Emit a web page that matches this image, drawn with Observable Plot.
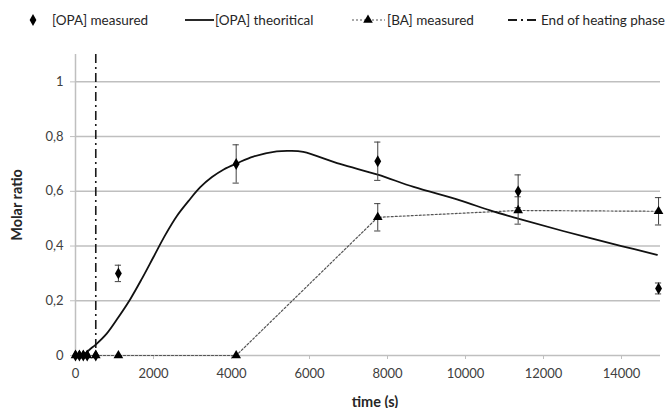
<!DOCTYPE html>
<html>
<head>
<meta charset="utf-8">
<script src="https://cdn.jsdelivr.net/npm/d3@7"></script>
<script src="https://cdn.jsdelivr.net/npm/@observablehq/plot@0.6"></script>
<style>
  html, body { margin: 0; padding: 0; background: #fff; }
  #wrap { width: 672px; height: 408px; position: relative; font-family: Lato, "Open Sans", sans-serif; color: #262626; }
  #legend { position: relative; height: 30px; font-size: 13.5px; }
  #legend .item { position: absolute; top: 11px; height: 18px; line-height: 18px; white-space: nowrap; }
  #legend svg { position: absolute; overflow: visible; }
  #chart svg { display: block; }
</style>
</head>
<body>
<div id="wrap">
  <div id="legend"></div>
  <div id="chart"></div>
</div>
<script>
// Sampling times (s) and measured molar ratios with their error bars
const sampleTime = [0, 100, 200, 300, 520, 1100, 4120, 7750, 11350, 14950];
const opaMeasured = [0, 0, 0, 0, 0, 0.30, 0.70, 0.71, 0.60, 0.245];
const opaError = [0, 0, 0, 0, 0, 0.03, 0.07, 0.07, 0.06, 0.02];
const baMeasured = [0, 0, 0, 0, 0, 0, 0, 0.505, 0.53, 0.527];
const baError = [0, 0, 0, 0, 0, 0, 0, 0.05, 0.05, 0.05];

// Model curve for OPA
const theoTime = [200, 365, 520, 800, 1100, 1400, 1700, 2000, 2300, 2600, 2900, 3200, 3500, 3800, 4150, 4560, 5160, 5500, 5840, 6780, 7750, 8670, 9860, 10630, 11350, 12500, 14000, 14910];
const theoRatio = [0, 0.022, 0.04, 0.08, 0.14, 0.205, 0.28, 0.36, 0.44, 0.51, 0.565, 0.615, 0.652, 0.68, 0.703, 0.727, 0.746, 0.748, 0.744, 0.70, 0.661, 0.616, 0.567, 0.53, 0.50, 0.455, 0.40, 0.368];

const heatingEnd = 520;

const xTicks = [0, 2000, 4000, 6000, 8000, 10000, 12000, 14000];
const yTicks = [0, 0.2, 0.4, 0.6, 0.8, 1];
const yGrid = [0.2, 0.4, 0.6, 0.8, 1];

const seriesNames = ["[OPA] measured", "[OPA] theoritical", "[BA] measured", "End of heating phase"];

const opa = sampleTime.map((t, i) => ({t, v: opaMeasured[i], e: opaError[i]}));
const ba = sampleTime.map((t, i) => ({t, v: baMeasured[i], e: baError[i]}));
const theo = theoTime.map((t, i) => ({t, v: theoRatio[i]}));
const bars = [...opa, ...ba].filter(d => d.e > 0);
const capHalf = 80;

const gridColor = "#bfbfbf";
const comma = d => String(d).replace(".", ",");

const chart = Plot.plot({
  width: 672,
  height: 378,
  marginLeft: 75,
  marginRight: 12,
  marginTop: 24,
  marginBottom: 53,
  style: {fontFamily: "Lato, 'Open Sans', sans-serif", fontSize: "13px", color: "#404040", background: "#fff"},
  x: {domain: [0, 15000]},
  y: {domain: [0, 1.1]},
  marks: [
    Plot.ruleY(yGrid, {stroke: gridColor, strokeWidth: 1.5}),
    Plot.ruleY([0], {stroke: gridColor, strokeWidth: 1.5}),
    Plot.ruleX([0], {stroke: gridColor, strokeWidth: 1.5}),
    Plot.axisY({ticks: yTicks, tickFormat: comma, tickSize: 5, tickPadding: 7, stroke: gridColor,
      label: "Molar ratio", labelArrow: "none", labelAnchor: "center", labelOffset: 64}),
    Plot.axisX({ticks: xTicks, tickFormat: d => String(d), tickSize: 4, tickPadding: 9, stroke: gridColor,
      label: "time (s)", labelArrow: "none", labelAnchor: "center", labelOffset: 51}),
    Plot.ruleX([heatingEnd], {stroke: "#1a1a1a", strokeWidth: 1.6, strokeDasharray: "9,4,2,4"}),
    Plot.line(ba, {x: "t", y: "v", stroke: "#555", strokeWidth: 1.2, strokeDasharray: "2,2"}),
    Plot.line(theo, {x: "t", y: "v", stroke: "#111", strokeWidth: 1.8, curve: "catmull-rom"}),
    Plot.ruleX(bars, {x: "t", y1: d => d.v - d.e, y2: d => d.v + d.e, stroke: "#404040", strokeWidth: 1}),
    Plot.ruleY(bars, {y: d => d.v + d.e, x1: d => d.t - capHalf, x2: d => d.t + capHalf, stroke: "#404040", strokeWidth: 1}),
    Plot.ruleY(bars, {y: d => d.v - d.e, x1: d => d.t - capHalf, x2: d => d.t + capHalf, stroke: "#404040", strokeWidth: 1}),
    Plot.dot(ba, {x: "t", y: "v", symbol: "triangle", r: 3.6, fill: "#000", stroke: "none"}),
    Plot.dot(opa, {x: "t", y: "v", symbol: "diamond", r: 3.6, fill: "#000", stroke: "none"})
  ]
});
// bold axis titles, without direction arrows
const titles = d3.select(chart).selectAll("[aria-label='y-axis label'] text, [aria-label='x-axis label'] text");
titles.attr("font-weight", "bold").attr("fill", "#262626").attr("font-size", "14.5px")
  .each(function() {
    const t = d3.select(this);
    t.text(t.text().replace(/[\u2190-\u2193]/g, "").trim());
  });
d3.select(chart).select("[aria-label='x-axis label']").attr("transform", function() {
  return (d3.select(this).attr("transform") || "") + " translate(7,0)";
});
document.getElementById("chart").appendChild(chart);

// Legend
const legend = d3.select("#legend");
const items = [
  {left: 23, width: 20, text: seriesNames[0], textLeft: 52, draw: s => s.append("path").attr("d", d3.symbol(d3.symbolDiamond, 40)()).attr("transform", "translate(10,9)").attr("fill", "#000")},
  {left: 185, width: 29, text: seriesNames[1], textLeft: 215, draw: s => s.append("line").attr("x1", 0).attr("x2", 29).attr("y1", 9).attr("y2", 9).attr("stroke", "#111").attr("stroke-width", 1.8)},
  {left: 352, width: 33, text: seriesNames[2], textLeft: 387, draw: s => {
    s.append("line").attr("x1", 0).attr("x2", 33).attr("y1", 9).attr("y2", 9).attr("stroke", "#555").attr("stroke-width", 1.2).attr("stroke-dasharray", "2,2");
    s.append("path").attr("d", d3.symbol(d3.symbolTriangle, 40)()).attr("transform", "translate(16,9)").attr("fill", "#000");
  }},
  {left: 508, width: 32, text: seriesNames[3], textLeft: 541, draw: s => s.append("line").attr("x1", 0).attr("x2", 32).attr("y1", 9).attr("y2", 9).attr("stroke", "#1a1a1a").attr("stroke-width", 1.8).attr("stroke-dasharray", "9,4,2,4")}
];
for (const it of items) {
  const sw = legend.append("svg").attr("width", it.width).attr("height", 18).style("left", it.left + "px").style("top", "11px");
  it.draw(sw);
  legend.append("div").attr("class", "item").style("left", it.textLeft + "px").text(it.text);
}
</script>
</body>
</html>
